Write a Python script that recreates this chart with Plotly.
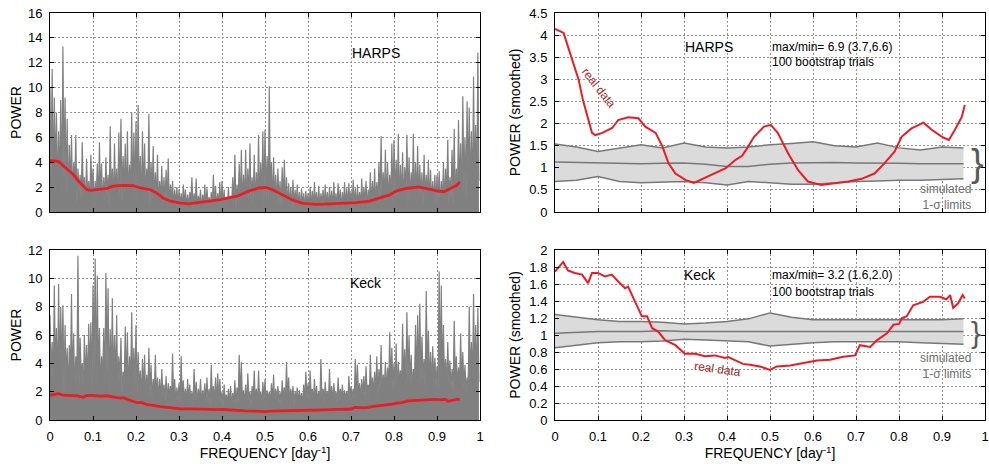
import numpy as np
import plotly.graph_objects as go

# ---------------- data ----------------
# raw periodogram peaks (every 0.005 day^-1) and the dips between them
harps_peaks = [
    10.0, 11.5, 9.2, 8.0, 6.5, 9.0, 13.3, 9.2, 7.5, 5.4,
    6.2, 4.0, 6.2, 3.5, 3.0, 5.6, 2.8, 4.3, 2.5, 4.6,
    3.5, 2.5, 3.9, 5.6, 3.9, 2.8, 4.4, 3.0, 6.9, 3.5,
    5.5, 3.5, 6.4, 7.5, 4.5, 5.5, 6.5, 3.8, 8.0, 6.4,
    7.3, 8.6, 4.5, 6.5, 5.5, 3.5, 7.9, 4.0, 5.3, 3.2,
    4.6, 2.5, 3.7, 2.8, 3.4, 4.3, 2.2, 2.5, 1.8, 2.0,
    1.8, 1.5, 2.2, 1.8, 1.4, 1.6, 2.8, 1.5, 2.7, 1.3,
    1.8, 1.4, 2.2, 1.9, 1.2, 1.6, 3.0, 2.1, 1.5, 2.4,
    2.5, 1.8, 1.2, 2.0, 1.3, 2.8, 4.6, 2.2, 3.9, 5.0,
    3.0, 5.0, 3.5, 5.5, 2.8, 4.6, 3.2, 6.2, 4.0, 6.5,
    6.6, 4.5, 10.1, 4.0, 4.4, 3.0, 3.5, 2.5, 3.6, 4.2,
    2.8, 2.3, 2.0, 2.6, 1.8, 2.2, 1.6, 1.9, 1.5, 1.7,
    1.5, 2.0, 1.7, 2.4, 1.6, 2.1, 1.5, 1.8, 2.2, 1.6,
    2.0, 1.7, 2.4, 1.5, 2.3, 1.8, 1.6, 2.4, 1.9, 2.3,
    1.7, 2.6, 1.9, 2.2, 1.6, 2.7, 2.0, 2.5, 1.8, 3.2,
    2.5, 3.5, 2.4, 4.0, 6.1, 3.2, 5.0, 4.0, 3.0, 5.5,
    5.8, 4.2, 6.3, 3.8, 4.8, 3.6, 6.2, 4.4, 3.2, 6.3,
    4.0, 5.3, 3.8, 3.2, 4.6, 3.0, 4.2, 3.4, 2.5, 3.0,
    3.0, 3.3, 2.5, 4.0, 3.5, 5.8, 2.8, 5.0, 6.7, 3.5,
    7.4, 5.5, 9.3, 6.0, 8.9, 8.4, 6.5, 10.9, 7.0, 12.8,
]
harps_dips = [
    2.5, 1.8, 3.0, 1.2, 2.2, 0.8, 2.6, 1.5, 0.6, 1.9,
    1.0, 2.1, 0.5, 1.6, 0.9, 1.4, 0.4, 1.2, 0.7, 1.5,
    0.3, 1.1, 0.6, 1.3, 0.4, 0.9, 1.2, 0.3, 1.0, 0.6,
    1.2, 0.4, 1.0, 0.7, 1.4, 0.3, 0.9, 1.3, 0.5, 1.1,
    0.6, 1.3, 0.4, 1.0, 0.8, 1.4, 0.3, 1.1, 0.7, 0.9,
    0.4, 1.0, 0.3, 0.8, 0.5, 0.2, 0.9, 0.4, 0.6, 0.3,
    0.5, 0.2, 0.6, 0.3, 0.4, 0.7, 0.2, 0.5, 0.3, 0.6,
    0.2, 0.5, 0.3, 0.6, 0.2, 0.4, 0.5, 0.3, 0.6, 0.2,
    0.4, 0.2, 0.5, 0.3, 0.6, 0.4, 0.2, 0.7, 0.3, 0.5,
    0.8, 0.3, 0.9, 0.5, 1.0, 0.4, 0.8, 0.6, 1.1, 0.5,
    0.9, 0.6, 1.2, 0.4, 0.8, 0.5, 0.7, 0.3, 0.6, 0.4,
    0.3, 0.5, 0.2, 0.4, 0.6, 0.3, 0.2, 0.5, 0.3, 0.4,
    0.2, 0.4, 0.3, 0.5, 0.2, 0.3, 0.6, 0.2, 0.4, 0.3,
    0.5, 0.2, 0.4, 0.3, 0.6, 0.2, 0.5, 0.3, 0.4, 0.6,
    0.3, 0.5, 0.2, 0.6, 0.4, 0.3, 0.7, 0.2, 0.5, 0.4,
    0.6, 0.3, 0.8, 0.5, 0.4, 0.9, 0.3, 0.7, 1.0, 0.5,
    0.8, 1.2, 0.4, 1.0, 0.6, 1.3, 0.5, 0.9, 1.1, 0.4,
    1.0, 0.6, 1.2, 0.5, 0.9, 1.1, 0.4, 0.8, 1.0, 0.6,
    0.7, 0.5, 0.9, 0.4, 1.0, 0.6, 1.2, 0.5, 0.8, 1.3,
    1.5, 0.8, 1.8, 1.0, 2.2, 1.4, 0.9, 2.0, 1.2, 2.5,
]
keck_peaks = [
    7.4, 5.5, 9.5, 6.5, 9.6, 8.0, 8.1, 6.7, 5.1, 5.3,
    8.9, 6.1, 4.5, 11.6, 5.8, 4.0, 6.0, 5.3, 6.8, 6.9,
    9.5, 11.4, 10.2, 6.5, 4.5, 6.5, 10.4, 9.3, 6.4, 8.6,
    6.0, 7.4, 4.5, 5.8, 3.4, 6.6, 6.2, 4.5, 7.6, 5.1,
    6.7, 4.8, 3.5, 4.3, 4.6, 3.2, 5.1, 3.9, 2.9, 4.6,
    3.0, 2.9, 3.6, 2.5, 3.1, 2.6, 2.4, 4.7, 2.9, 2.3,
    2.6, 4.5, 2.8, 2.2, 2.9, 2.5, 2.0, 3.6, 2.7, 2.2,
    2.9, 2.1, 2.6, 3.0, 2.2, 3.9, 2.4, 3.0, 3.3, 2.9,
    2.0, 2.5, 1.8, 2.2, 2.4, 1.9, 2.8, 2.3, 4.6, 4.1,
    2.1, 2.5, 3.3, 2.0, 2.4, 3.5, 2.2, 3.5, 2.0, 2.7,
    2.9, 2.1, 2.0, 2.6, 3.2, 2.2, 2.4, 2.0, 2.8, 2.3,
    4.1, 3.0, 2.2, 2.4, 2.0, 2.3, 2.1, 1.9, 2.5, 3.4,
    2.6, 3.5, 2.2, 2.9, 2.4, 2.0, 4.3, 2.2, 2.7, 2.0,
    3.6, 2.4, 2.6, 2.0, 3.0, 2.2, 2.5, 2.1, 2.0, 3.1,
    2.4, 2.2, 4.3, 3.9, 2.6, 2.9, 3.1, 3.8, 2.5, 4.6,
    3.0, 3.4, 4.5, 3.6, 5.3, 3.2, 4.1, 3.7, 6.2, 5.1,
    4.0, 5.4, 4.1, 3.5, 6.8, 5.0, 7.6, 6.0, 4.6, 3.6,
    6.7, 7.4, 8.2, 5.9, 4.3, 9.1, 6.3, 4.8, 5.2, 4.4,
    3.8, 10.5, 9.5, 6.7, 4.3, 5.5, 4.2, 3.6, 7.0, 4.5,
    3.7, 6.1, 4.8, 3.9, 3.0, 8.0, 5.5, 8.9, 6.7, 7.9,
]
keck_dips = [
    3.0, 2.2, 3.5, 2.0, 2.8, 3.2, 1.8, 2.6, 2.0, 3.0,
    2.4, 1.8, 2.9, 2.2, 3.1, 1.9, 2.7, 2.3, 3.2, 2.0,
    3.4, 2.5, 2.9, 2.1, 3.0, 2.4, 3.3, 2.0, 2.7, 2.2,
    2.6, 2.0, 2.8, 1.8, 2.5, 2.2, 1.9, 2.6, 2.0, 2.3,
    1.8, 2.2, 1.6, 2.0, 1.5, 1.9, 1.7, 1.4, 1.8, 1.5,
    1.6, 1.3, 1.7, 1.4, 1.2, 1.6, 1.3, 1.5, 1.1, 1.4,
    1.2, 1.5, 1.3, 1.1, 1.4, 1.2, 1.0, 1.4, 1.2, 1.3,
    1.1, 1.4, 1.2, 1.3, 1.0, 1.5, 1.2, 1.1, 1.4, 1.2,
    1.0, 1.3, 1.1, 1.2, 0.9, 1.3, 1.1, 1.2, 1.5, 1.3,
    1.2, 1.0, 1.4, 1.1, 1.3, 1.2, 1.0, 1.4, 1.1, 1.3,
    1.1, 1.4, 1.2, 1.3, 1.0, 1.5, 1.2, 1.1, 1.4, 1.2,
    1.5, 1.2, 1.3, 1.1, 1.4, 1.2, 1.3, 1.0, 1.4, 1.5,
    1.3, 1.6, 1.2, 1.4, 1.3, 1.1, 1.7, 1.2, 1.5, 1.3,
    1.5, 1.3, 1.6, 1.2, 1.4, 1.5, 1.3, 1.6, 1.2, 1.5,
    1.6, 1.4, 1.9, 1.7, 1.5, 1.8, 1.6, 1.9, 1.5, 2.0,
    1.8, 2.0, 1.7, 2.2, 1.9, 2.3, 1.8, 2.1, 2.5, 2.2,
    2.4, 2.0, 2.6, 2.2, 2.8, 2.3, 2.7, 2.5, 2.1, 2.4,
    2.6, 2.9, 2.4, 2.8, 2.2, 3.0, 2.5, 2.3, 2.7, 2.4,
    2.2, 3.0, 2.8, 2.5, 2.1, 2.6, 2.3, 2.0, 2.7, 2.4,
    2.3, 2.6, 2.2, 2.0, 2.5, 2.8, 2.4, 2.9, 2.6, 2.7,
]

# smoothed power ("real data")
harps_smooth_freq = [0.0, 0.02, 0.04, 0.055, 0.065, 0.077, 0.086, 0.094, 0.11, 0.133,
                     0.147, 0.17, 0.194, 0.21, 0.234, 0.25, 0.264, 0.28, 0.304, 0.323,
                     0.343, 0.367, 0.397, 0.42, 0.435, 0.444, 0.463, 0.486, 0.502, 0.518,
                     0.542, 0.565, 0.588, 0.619, 0.65, 0.682, 0.713, 0.743, 0.766, 0.79,
                     0.806, 0.829, 0.857, 0.876, 0.9, 0.916, 0.93, 0.946, 0.953]
harps_smooth_power = [4.14, 4.05, 3.44, 2.99, 2.53, 2.08, 1.79, 1.74, 1.79, 1.90,
                      2.08, 2.14, 2.12, 1.93, 1.79, 1.48, 1.10, 0.87, 0.72, 0.66,
                      0.75, 0.84, 0.99, 1.18, 1.27, 1.40, 1.70, 1.93, 1.97, 1.79,
                      1.33, 0.95, 0.69, 0.61, 0.65, 0.69, 0.75, 0.87, 1.10, 1.37,
                      1.70, 1.89, 2.02, 1.86, 1.70, 1.63, 1.86, 2.15, 2.42]
keck_smooth_freq = [0.0, 0.019, 0.03, 0.046, 0.063, 0.077, 0.086, 0.1, 0.116, 0.132,
                    0.147, 0.163, 0.17, 0.186, 0.202, 0.214, 0.226, 0.24, 0.256, 0.28,
                    0.302, 0.326, 0.349, 0.372, 0.395, 0.403, 0.426, 0.437, 0.453, 0.477,
                    0.5, 0.516, 0.547, 0.577, 0.609, 0.64, 0.67, 0.698, 0.709, 0.733,
                    0.749, 0.772, 0.787, 0.8, 0.807, 0.818, 0.833, 0.856, 0.872, 0.895,
                    0.91, 0.919, 0.926, 0.937, 0.948, 0.953]
keck_smooth_power = [1.745, 1.86, 1.76, 1.73, 1.71, 1.61, 1.73, 1.73, 1.69, 1.71,
                     1.63, 1.55, 1.57, 1.39, 1.22, 1.22, 1.08, 1.04, 0.94, 0.88,
                     0.78, 0.78, 0.75, 0.76, 0.73, 0.74, 0.69, 0.66, 0.65, 0.63,
                     0.59, 0.63, 0.64, 0.67, 0.70, 0.71, 0.745, 0.76, 0.88, 0.86,
                     0.94, 1.02, 1.12, 1.13, 1.20, 1.22, 1.35, 1.39, 1.45, 1.45,
                     1.42, 1.47, 1.32, 1.37, 1.47, 1.43]

# bootstrap 1-sigma limits
band_freq = [0.0, 0.05, 0.1, 0.15, 0.2, 0.25, 0.3, 0.35, 0.4, 0.45,
             0.5, 0.55, 0.6, 0.65, 0.7, 0.75, 0.8, 0.85, 0.9, 0.95]
harps_upper = [1.54, 1.47, 1.37, 1.45, 1.52, 1.45, 1.56, 1.47, 1.45, 1.47,
               1.52, 1.55, 1.59, 1.50, 1.47, 1.56, 1.45, 1.40, 1.47, 1.45]
harps_mid = [1.13, 1.12, 1.11, 1.10, 1.09, 1.10, 1.11, 1.08, 1.03, 1.03,
             1.08, 1.11, 1.12, 1.12, 1.11, 1.11, 1.10, 1.09, 1.09, 1.09]
harps_lower = [0.69, 0.72, 0.80, 0.69, 0.66, 0.68, 0.69, 0.66, 0.61, 0.69,
               0.66, 0.63, 0.63, 0.66, 0.69, 0.70, 0.72, 0.72, 0.74, 0.75]
keck_upper = [1.24, 1.21, 1.18, 1.16, 1.16, 1.15, 1.13, 1.14, 1.16, 1.19,
              1.26, 1.21, 1.18, 1.18, 1.18, 1.18, 1.18, 1.18, 1.18, 1.19]
keck_mid = [1.02, 1.03, 1.04, 1.04, 1.04, 1.05, 1.04, 1.04, 1.04, 1.04,
            1.04, 1.04, 1.04, 1.04, 1.04, 1.04, 1.04, 1.04, 1.04, 1.04]
keck_lower = [0.85, 0.88, 0.91, 0.92, 0.92, 0.93, 0.95, 0.94, 0.93, 0.92,
              0.87, 0.89, 0.91, 0.92, 0.92, 0.92, 0.92, 0.91, 0.90, 0.89]

harps_label = "max/min= 6.9 (3.7,6.6)"
keck_label = "max/min= 3.2 (1.6,2.0)"

# ---------------- figure ----------------
GRAY = "rgb(128,128,128)"
RED = "rgb(236,28,36)"
BAND = "rgb(219,219,219)"
EDGE = "rgb(120,120,120)"
FONT = "Liberation Sans, Arial, Helvetica, sans-serif"

peak_freq = np.arange(len(harps_peaks)) * 0.005


def zigzag(peaks, dips):
    xs, ys = [], []
    for f, p, d in zip(peak_freq, peaks, dips):
        xs += [f, f + 0.0025]
        ys += [p, d]
    return xs, ys


fig = go.Figure()

hx, hy = zigzag(harps_peaks, harps_dips)
fig.add_trace(go.Scatter(x=hx, y=hy, mode="lines", line=dict(color=GRAY, width=1.2),
                         fill="tozeroy", fillcolor=GRAY, xaxis="x", yaxis="y", hoverinfo="skip"))
fig.add_trace(go.Scatter(x=harps_smooth_freq, y=harps_smooth_power, mode="lines",
                         line=dict(color=RED, width=2.8), xaxis="x", yaxis="y"))

kx, ky = zigzag(keck_peaks, keck_dips)
fig.add_trace(go.Scatter(x=kx, y=ky, mode="lines", line=dict(color=GRAY, width=1.2),
                         fill="tozeroy", fillcolor=GRAY, xaxis="x2", yaxis="y2", hoverinfo="skip"))
fig.add_trace(go.Scatter(x=keck_smooth_freq, y=keck_smooth_power, mode="lines",
                         line=dict(color=RED, width=2.8), xaxis="x2", yaxis="y2"))

for xa, ya, up, mid, lo, sf, sp in [("x3", "y3", harps_upper, harps_mid, harps_lower,
                                     harps_smooth_freq, harps_smooth_power),
                                    ("x4", "y4", keck_upper, keck_mid, keck_lower,
                                     keck_smooth_freq, keck_smooth_power)]:
    fig.add_trace(go.Scatter(x=band_freq, y=lo, mode="lines", line=dict(color=EDGE, width=1.5),
                             xaxis=xa, yaxis=ya))
    fig.add_trace(go.Scatter(x=band_freq, y=up, mode="lines", fill="tonexty", fillcolor=BAND,
                             line=dict(color=EDGE, width=1.5), xaxis=xa, yaxis=ya))
    fig.add_trace(go.Scatter(x=band_freq, y=mid, mode="lines", line=dict(color=EDGE, width=1.5),
                             xaxis=xa, yaxis=ya))
    fig.add_trace(go.Scatter(x=sf, y=sp, mode="lines", line=dict(color=RED, width=2),
                             xaxis=xa, yaxis=ya))

W, H = 989, 464
xl = [50 / W, 480 / W]
xr = [555 / W, 985 / W]
yt = [1 - 212 / H, 1 - 13 / H]
yb = [1 - 420 / H, 1 - 250 / H]

axis_common = dict(showline=True, linecolor="black", linewidth=1, mirror="ticks",
                   ticks="inside", ticklen=4, tickcolor="black", automargin=False,
                   ticklabelstandoff=4,
                   showgrid=True, gridcolor="rgb(150,150,150)", griddash="2px,2px", gridwidth=1,
                   zeroline=False, tickfont=dict(family=FONT, size=13, color="black"))

xcommon = dict(axis_common, range=[0, 1], dtick=0.1, tick0=0)
title_font = dict(family=FONT, size=14, color="black")

fig.update_layout(
    width=W, height=H, margin=dict(l=0, r=0, t=0, b=0, autoexpand=False), autosize=False,
    plot_bgcolor="white", paper_bgcolor="white", showlegend=False,
    font=dict(family=FONT, size=13, color="black"),
    xaxis=dict(xcommon, domain=xl, anchor="y", showticklabels=False),
    yaxis=dict(axis_common, domain=yt, anchor="x", range=[0, 16], dtick=2,
               title=dict(text="POWER", font=title_font, standoff=3)),
    xaxis2=dict(xcommon, domain=xl, anchor="y2",
                title=dict(text="FREQUENCY [day<sup>-1</sup>]", font=title_font, standoff=4)),
    yaxis2=dict(axis_common, domain=yb, anchor="x2", range=[0, 12], dtick=2,
                title=dict(text="POWER", font=title_font, standoff=3)),
    xaxis3=dict(xcommon, domain=xr, anchor="y3", showticklabels=False),
    yaxis3=dict(axis_common, domain=yt, anchor="x3", range=[0, 4.5], dtick=0.5,
                title=dict(text="POWER (smoothed)", font=title_font, standoff=5)),
    xaxis4=dict(xcommon, domain=xr, anchor="y4",
                title=dict(text="FREQUENCY [day<sup>-1</sup>]", font=title_font, standoff=4)),
    yaxis4=dict(axis_common, domain=yb, anchor="x4", range=[0, 2], dtick=0.2,
                title=dict(text="POWER (smoothed)", font=title_font, standoff=5)),
)

ann = []


def txt(x, y, text, xr_, yr_, size=13, color="black", xanchor="center", angle=0, align="left"):
    ann.append(dict(x=x, y=y, xref=xr_, yref=yr_, text=text, showarrow=False,
                    font=dict(family=FONT, size=size, color=color), xanchor=xanchor,
                    yanchor="middle", textangle=angle, align=align))


txt(0.757, 12.8, "HARPS", "x", "y", size=14)
txt(0.736, 9.7, "Keck", "x2", "y2", size=14)
txt(0.358, 3.73, "HARPS", "x3", "y3", size=14)
txt(0.337, 1.71, "Keck", "x4", "y4", size=14)
txt(0.5, 3.73, harps_label, "x3", "y3", size=12, xanchor="left")
txt(0.5, 3.39, "100 bootstrap trials", "x3", "y3", size=12, xanchor="left")
txt(0.5, 1.71, keck_label, "x4", "y4", size=12, xanchor="left")
txt(0.5, 1.51, "100 bootstrap trials", "x4", "y4", size=12, xanchor="left")
txt(0.102, 2.8, "real data", "x3", "y3", size=12, color="rgb(170,40,40)", angle=52)
txt(0.377, 0.6, "real data", "x4", "y4", size=12, color="rgb(170,40,40)", angle=8)
txt(0.972, 0.34, "simulated<br>1-σ limits", "x3", "y3", size=12, color="rgb(110,110,110)",
    xanchor="right", align="right")
txt(0.972, 0.63, "simulated<br>1-σ limits", "x4", "y4", size=12, color="rgb(110,110,110)",
    xanchor="right", align="right")
txt(0.962, 1.1, "}", "x3", "y3", size=38, color="rgb(90,90,90)", xanchor="left")
txt(0.962, 1.03, "}", "x4", "y4", size=30, color="rgb(90,90,90)", xanchor="left")

fig.update_layout(annotations=ann)
fig.write_html("out.html", config={"displayModeBar": False},
               post_script="document.body.style.margin='0';document.body.style.overflow='hidden';")
